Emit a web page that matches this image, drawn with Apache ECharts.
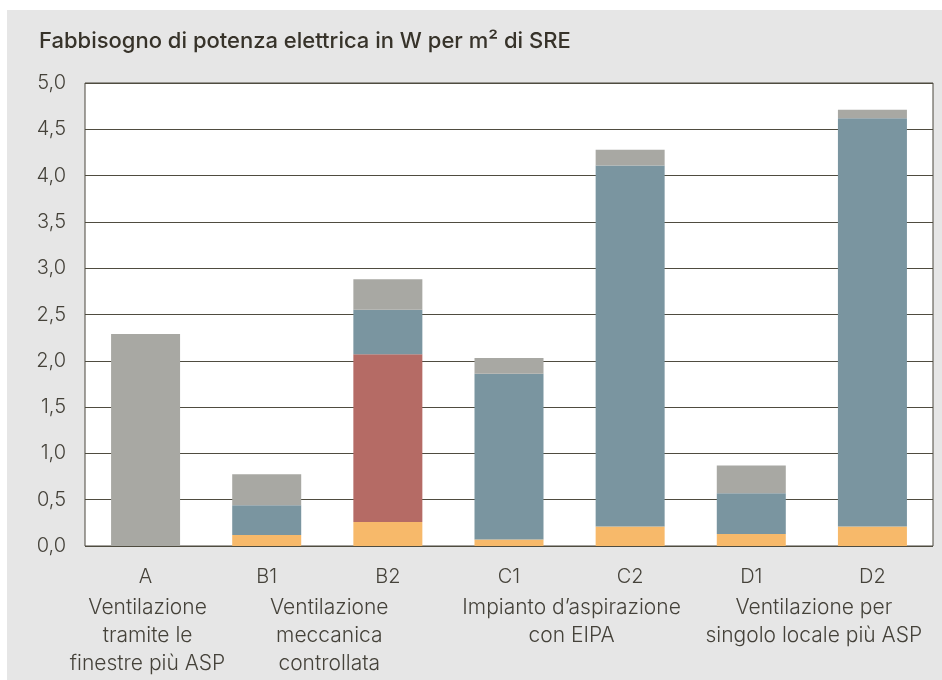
<!DOCTYPE html>
<html>
<head>
<meta charset="utf-8">
<script src="https://cdn.jsdelivr.net/npm/echarts@6/dist/echarts.min.js"></script>
<style>
  html, body { margin: 0; padding: 0; background: #ffffff; }
  #chart { width: 942px; height: 680px; }
</style>
</head>
<body>
<div id="chart"></div>
<script>
// Categories (variants) and their group captions
const categories = ['A', 'B1', 'B2', 'C1', 'C2', 'D1', 'D2'];
const groups = [
  { from: 'A',  to: 'A',  lines: ['Ventilazione', 'tramite le', 'finestre più ASP'] },
  { from: 'B1', to: 'B2', lines: ['Ventilazione', 'meccanica', 'controllata'] },
  { from: 'C1', to: 'C2', lines: ['Impianto d\u2019aspirazione', 'con EIPA'] },
  { from: 'D1', to: 'D2', lines: ['Ventilazione per', 'singolo locale più ASP'] }
];

// Stacked components, bottom to top (W per m² SRE)
const orangePart = ['-', 0.12, 0.26, 0.07, 0.21, 0.13, 0.21];
const redPart    = ['-', '-',  1.81, '-',  '-',  '-',  '-'];
const bluePart   = ['-', 0.32, 0.48, 1.79, 3.90, 0.44, 4.41];
const greyPart   = [2.29, 0.335, 0.33, 0.17, 0.17, 0.30, 0.09];

const FONT = 'Inter, "Noto Sans", sans-serif';
const TEXT = '#45423a';

const chart = echarts.init(document.getElementById('chart'), null, { renderer: 'canvas' });

function barSeries(name, data, color) {
  return {
    name: name,
    type: 'bar',
    stack: 'total',
    data: data,
    barWidth: 69,
    itemStyle: { color: color },
    emphasis: { disabled: true }
  };
}

chart.setOption({
  animation: false,
  backgroundColor: '#ffffff',
  textStyle: { fontFamily: FONT },
  title: {
    text: 'Fabbisogno di potenza elettrica in W per m\u00B2 di SRE',
    left: 34,
    top: 25,
    textStyle: { fontFamily: FONT, fontSize: 22, fontWeight: 500, color: '#37332a' }
  },
  grid: {
    left: 85, right: 9, top: 83, bottom: 134,
    show: true,
    backgroundColor: '#ffffff',
    borderColor: '#4a473c',
    borderWidth: 1
  },
  xAxis: {
    type: 'category',
    data: categories,
    axisLine: { show: false },
    axisTick: { show: false },
    axisLabel: { margin: 21, fontSize: 20, fontWeight: 300, color: TEXT, fontFamily: FONT }
  },
  yAxis: {
    type: 'value',
    min: 0, max: 5, interval: 0.5,
    axisLine: { show: false },
    axisTick: { show: false },
    splitLine: { lineStyle: { color: '#4f4c40', width: 1 } },
    axisLabel: {
      margin: 19, fontSize: 20, fontWeight: 300, color: TEXT, fontFamily: FONT,
      formatter: v => v.toFixed(1).replace('.', ',')
    }
  },
  series: [
    barSeries('Orange', orangePart, '#f7b96a'),
    barSeries('Red', redPart, '#b56b65'),
    barSeries('Blue', bluePart, '#7a95a0'),
    barSeries('Grey', greyPart, '#a8a8a3')
  ]
});

// Panel background and the group captions under the category labels
function drawExtras() {
  const elements = [{
    type: 'rect', z: -10, silent: true,
    shape: { x: 7, y: 10, width: 935, height: 670 },
    style: { fill: '#e6e6e6' }
  }];
  const baseY = chart.convertToPixel({ yAxisIndex: 0 }, 0);
  groups.forEach(g => {
    const x1 = chart.convertToPixel({ xAxisIndex: 0 }, g.from);
    const x2 = chart.convertToPixel({ xAxisIndex: 0 }, g.to);
    const cx = (x1 + x2) / 2 + 2;
    g.lines.forEach((line, i) => {
      elements.push({
        type: 'text', silent: true,
        x: cx, y: baseY + 62 + i * 28,
        style: {
          text: line, fill: TEXT, font: '300 21px ' + FONT,
          align: 'center', verticalAlign: 'middle'
        }
      });
    });
  });
  chart.setOption({ graphic: elements });
}
drawExtras();
</script>
</body>
</html>
